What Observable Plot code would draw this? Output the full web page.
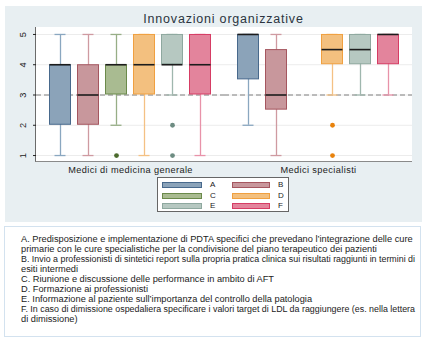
<!DOCTYPE html>
<html>
<head>
<meta charset="utf-8">
<script src="https://cdn.jsdelivr.net/npm/d3@7"></script>
<script src="https://cdn.jsdelivr.net/npm/@observablehq/plot@0.6"></script>
<style>
  html, body { margin: 0; padding: 0; background: #fff; }
  body { width: 429px; height: 341px; position: relative; overflow: hidden; font-family: "Liberation Sans", Arial, sans-serif; }
  #panel { position: absolute; left: 5px; top: 6px; width: 417px; height: 216px; background: #e8eff2; }
  #plotbg { position: absolute; left: 35px; top: 27px; width: 377px; height: 135px; background: #fff; border-left: 1px solid #6b6b6b; border-bottom: 1px solid #8a8a8a; box-sizing: border-box; }
  #title { position: absolute; left: 9px; width: 429px; top: 12px; text-align: center; font-size: 12.5px; letter-spacing: 0.8px; color: #2b3440; }
  #chart { position: absolute; left: 0; top: 0; }
  #legend { position: absolute; left: 157px; top: 177px; width: 132px; height: 35px; border: 1px solid #666; background: #fff; box-sizing: border-box; }
  .sw { position: absolute; height: 6px; box-sizing: border-box; border: 1px solid; }
  .lb { position: absolute; font-size: 8px; color: #222; line-height: 8px; }
  #caption { position: absolute; left: 4px; top: 226px; width: 417px; height: 111px; border: 1px solid #d3e2ef; box-sizing: border-box; background: #fff; }
  #caption div { position: absolute; left: 16px; white-space: nowrap; font-size: 9.25px; line-height: 10px; color: #222; transform-origin: 0 50%; }
</style>
</head>
<body>
<div id="panel"></div>
<div id="plotbg"></div>
<div id="title">Innovazioni organizzative</div>
<div id="chart"></div>
<div id="legend"></div>
<div id="caption"></div>
<script>
// ---- data ----
const groups = ["Medici di medicina generale", "Medici specialisti"];
const series = ["A", "B", "C", "D", "E", "F"];
const fills = ["#8ba3b9", "#c8979c", "#a9bb91", "#f3c07f", "#b6c8c1", "#e3849c"];
const strokes = ["#48698c", "#a5565f", "#6b8a4b", "#f0a040", "#8ea89f", "#d63c64"];
const whiskerColors = ["#8aa7c0", "#cf9aa1", "#97ae86", "#f4c184", "#9fb7ae", "#e892a9"];
const outlierColors = ["#48698c", "#a5565f", "#4b6a2c", "#e8820c", "#6d8c82", "#d63c64"];
const yTicks = [1, 2, 3, 4, 5];
const refLine = [3];

// Medici di medicina generale
const mmgLow = [1, 1, 2, 1, 3, 1];
const mmgQ1 = [2, 2, 3, 3, 4, 3];
const mmgMedian = [4, 3, 4, 4, 4, 4];
const mmgQ3 = [4, 4, 4, 5, 5, 5];
const mmgHigh = [5, 5, 5, 5, 5, 5];
// Medici specialisti (no C)
const specLow = [2, 1, null, 3, 3, 3];
const specQ1 = [3.5, 2.5, null, 4, 4, 4];
const specMedian = [5, 3, null, 4.5, 4.5, 5];
const specQ3 = [5, 4.5, null, 5, 5, 5];
const specHigh = [5, 5, null, 5, 5, 5];

const outlierGroup = ["Medici di medicina generale", "Medici di medicina generale", "Medici di medicina generale", "Medici specialisti", "Medici specialisti"];
const outlierSeries = ["C", "E", "E", "D", "D"];
const outlierValue = [1, 2, 1, 2, 1];

const captionLines = [
  "A. Predisposizione e implementazione di PDTA specifici che prevedano l\u2019integrazione delle cure",
  "primarie con le cure specialistiche per la condivisione del piano terapeutico dei pazienti",
  "B. Invio a professionisti di sintetici report sulla propria pratica clinica sui risultati raggiunti in termini di",
  "esiti intermedi",
  "C. Riunione e discussione delle performance in ambito di AFT",
  "D. Formazione ai professionisti",
  "E. Informazione al paziente sull\u2019importanza del controllo della patologia",
  "F. In caso di dimissione ospedaliera specificare i valori target di LDL da raggiungere (es. nella lettera",
  "di dimissione)"
];

// ---- build tables ----
const boxes = [];
const stats = [[mmgLow, mmgQ1, mmgMedian, mmgQ3, mmgHigh], [specLow, specQ1, specMedian, specQ3, specHigh]];
groups.forEach((g, gi) => {
  const [lo, q1, md, q3, hi] = stats[gi];
  series.forEach((s, si) => {
    if (md[si] == null) return;
    boxes.push({group: g, series: s, lo: lo[si], q1: q1[si], median: md[si], q3: q3[si], hi: hi[si]});
  });
});
const outliers = outlierValue.map((v, i) => ({group: outlierGroup[i], series: outlierSeries[i], value: v}));

const fillOf = Object.fromEntries(series.map((s, i) => [s, fills[i]]));
const strokeOf = Object.fromEntries(series.map((s, i) => [s, strokes[i]]));
const whiskerOf = Object.fromEntries(series.map((s, i) => [s, whiskerColors[i]]));
const outlierOf = Object.fromEntries(series.map((s, i) => [s, outlierColors[i]]));

const chart = Plot.plot({
  width: 429,
  height: 225,
  marginTop: 27,
  marginLeft: 35,
  marginRight: 17,
  marginBottom: 63,
  style: {background: "transparent", fontFamily: "Liberation Sans, Arial, sans-serif", fontSize: "9.2px", color: "#222", letterSpacing: "0.4px"},
  fx: {domain: groups, padding: 0, axis: "bottom", tickSize: 0, tickPadding: 4, label: null},
  x: {domain: series, paddingInner: 0.22, paddingOuter: 0.452, axis: null},
  y: {domain: [0.77, 5.23], ticks: yTicks, tickFormat: d3.format("d"), tickSize: 3, tickPadding: 8, tickRotate: -90, label: null},
  marks: [
    Plot.ruleY(yTicks, {stroke: "#ececec", strokeWidth: 1}),
    Plot.ruleY(refLine, {stroke: "#808080", strokeWidth: 1, strokeDasharray: "5,3"}),
    Plot.ruleX(boxes, {fx: "group", x: "series", y1: "lo", y2: "hi", stroke: d => whiskerOf[d.series], strokeWidth: 1.3}),
    Plot.tickY(boxes, {fx: "group", x: "series", y: "lo", stroke: d => whiskerOf[d.series], strokeWidth: 1.3, insetLeft: 5.5, insetRight: 5.5}),
    Plot.tickY(boxes, {fx: "group", x: "series", y: "hi", stroke: d => whiskerOf[d.series], strokeWidth: 1.3, insetLeft: 5.5, insetRight: 5.5}),
    Plot.barY(boxes, {fx: "group", x: "series", y1: "q1", y2: "q3", fill: d => fillOf[d.series], stroke: d => strokeOf[d.series], strokeWidth: 1, inset: 0.5}),
    Plot.tickY(boxes, {fx: "group", x: "series", y: "median", stroke: "#1c1c1c", strokeWidth: 1.6, insetLeft: 0.5, insetRight: 0.5}),
    Plot.dot(outliers, {fx: "group", x: "series", y: "value", r: 2.4, fill: d => outlierOf[d.series], stroke: "none"})
  ]
});
chart.style.overflow = "visible";
document.getElementById("chart").appendChild(chart);

// ---- legend ----
const legend = document.getElementById("legend");
series.forEach((s, i) => {
  const col = i % 2, row = Math.floor(i / 2);
  const sw = document.createElement("div");
  sw.className = "sw";
  sw.style.left = (col === 0 ? 4 : 74) + "px";
  sw.style.width = (col === 0 ? 40 : 38) + "px";
  sw.style.top = (4 + row * 10.5) + "px";
  sw.style.background = fills[i];
  sw.style.borderColor = strokes[i];
  legend.appendChild(sw);
  const lb = document.createElement("div");
  lb.className = "lb";
  lb.style.left = (col === 0 ? 52 : 120) + "px";
  lb.style.top = (3 + row * 10.5) + "px";
  lb.textContent = s;
  legend.appendChild(lb);
});

// ---- caption ----
const cap = document.getElementById("caption");
const maxLineWidth = 394;
captionLines.forEach((t, i) => {
  const d = document.createElement("div");
  d.style.top = (7 + i * 10) + "px";
  d.textContent = t;
  cap.appendChild(d);
  const w = d.getBoundingClientRect().width;
  if (w > maxLineWidth) d.style.transform = `scaleX(${maxLineWidth / w})`;
});
</script>
</body>
</html>
